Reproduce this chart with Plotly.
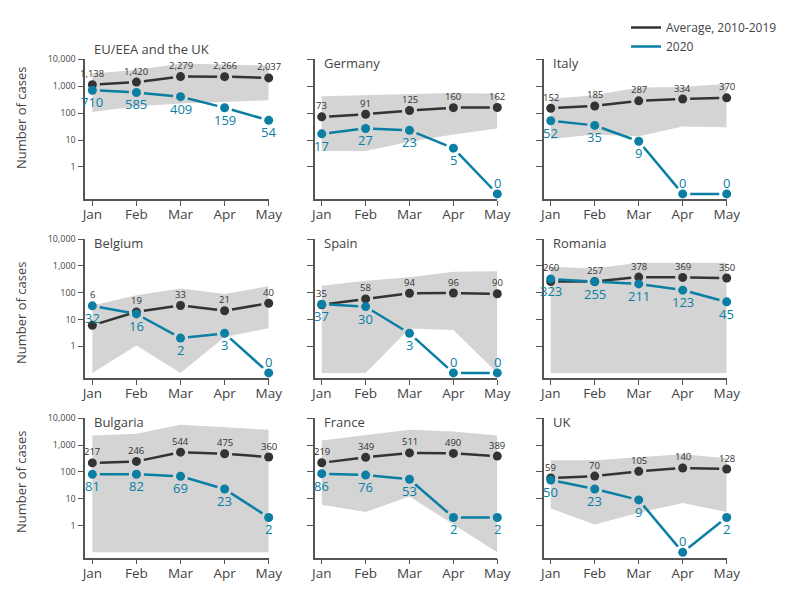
import math
import plotly.graph_objects as go

months = ["Jan", "Feb", "Mar", "Apr", "May"]
panel_titles = ["EU/EEA and the UK", "Germany", "Italy",
                "Belgium", "Spain", "Romania",
                "Bulgaria", "France", "UK"]

eu_avg = [1138, 1420, 2279, 2266, 2037]
eu_2020 = [710, 585, 409, 159, 54]
eu_lo = [110, 180, 230, 260, 300]
eu_hi = [3000, 4000, 7000, 6300, 5800]

de_avg = [73, 91, 125, 160, 162]
de_2020 = [17, 27, 23, 5, 0]
de_lo = [3.9, 3.9, 8.6, 16, 27]
de_hi = [420, 460, 530, 560, 520]

it_avg = [152, 185, 287, 334, 370]
it_2020 = [52, 35, 9, 0, 0]
it_lo = [11, 16, 14, 32, 30]
it_hi = [345, 460, 890, 945, 1230]

be_avg = [6, 19, 33, 21, 40]
be_2020 = [32, 16, 2, 3, 0]
be_lo = [0, 1.06, 0, 2.2, 4.7]
be_hi = [33, 79, 141, 89, 174]

es_avg = [35, 58, 94, 96, 90]
es_2020 = [37, 30, 3, 0, 0]
es_lo = [0, 0, 4.6, 4, 0]
es_hi = [180, 275, 370, 600, 630]

ro_avg = [260, 257, 378, 369, 350]
ro_2020 = [323, 255, 211, 123, 45]
ro_lo = [0, 0, 0, 0, 0]
ro_hi = [930, 790, 1300, 1300, 1300]

bg_avg = [217, 246, 544, 475, 360]
bg_2020 = [81, 82, 69, 23, 2]
bg_lo = [0, 0, 0, 0, 0]
bg_hi = [2270, 2640, 5800, 4600, 3700]

fr_avg = [219, 349, 511, 490, 389]
fr_2020 = [86, 76, 53, 2, 2]
fr_lo = [6, 3.2, 12, 1.1, 0]
fr_hi = [1480, 2270, 3700, 3200, 2300]

uk_avg = [59, 70, 105, 140, 128]
uk_2020 = [50, 23, 9, 0, 2]
uk_lo = [4.3, 1.1, 3, 6.9, 3.2]
uk_hi = [270, 270, 350, 460, 325]

y_tick_vals = [1, 10, 100, 1000, 10000]
y_tick_text = ["1", "10", "100", "1,000", "10,000"]

panels = [
    (eu_avg, eu_2020, eu_lo, eu_hi), (de_avg, de_2020, de_lo, de_hi), (it_avg, it_2020, it_lo, it_hi),
    (be_avg, be_2020, be_lo, be_hi), (es_avg, es_2020, es_lo, es_hi), (ro_avg, ro_2020, ro_lo, ro_hi),
    (bg_avg, bg_2020, bg_lo, bg_hi), (fr_avg, fr_2020, fr_lo, fr_hi), (uk_avg, uk_2020, uk_lo, uk_hi),
]

OFF = 8  # page body margin
W, H = 798 - OFF, 593 - OFF
DARK = "#333333"
TEAL = "#0a7fa3"
BAND = "#d4d4d4"
TXT = "#444444"
FONT = "Open Sans"
ZERO = 0.1  # zero plotted below the "1" tick

# layout geometry (page pixels)
col_px = [(85.3, 268.7), (314.7, 497.3), (543.7, 726.7)]
row_px = [(59.3, 199.3), (239.0, 378.3), (418.3, 557.7)]
X_RANGE = [-0.16, 4]
Y_RANGE = [math.log10(0.063), 4]
px_month = (col_px[0][1] - col_px[0][0]) / (X_RANGE[1] - X_RANGE[0])
px_decade = (row_px[0][1] - row_px[0][0]) / (Y_RANGE[1] - Y_RANGE[0])


def fx(px):
    return (px - OFF) / W


def fy(py):
    return 1 - (py - OFF) / H


def z(v):
    return v if v > 0 else ZERO


def gapped(vals, gap):
    xs, ys = [], []
    for i in range(len(vals) - 1):
        l0, l1 = math.log10(z(vals[i])), math.log10(z(vals[i + 1]))
        L = math.hypot(px_month, (l1 - l0) * px_decade)
        t = gap / L
        xs += [i + t, i + 1 - t, None]
        ys += [10 ** (l0 + t * (l1 - l0)), 10 ** (l1 - t * (l1 - l0)), None]
    return xs, ys


fig = go.Figure()
layout = dict(
    template="none",
    width=W, height=H, margin=dict(l=0, r=0, t=0, b=0, pad=0, autoexpand=False),
    paper_bgcolor="white", plot_bgcolor="white",
    font=dict(family=FONT, color=TXT, size=12),
    showlegend=True,
    legend=dict(x=fx(626), y=fy(13), xanchor="left", yanchor="top",
                font=dict(size=12, color=TXT), bgcolor="rgba(0,0,0,0)",
                tracegroupgap=0, itemwidth=30),
)
annotations = []
xs_idx = list(range(5))

for k, (avg, y20, lo, hi) in enumerate(panels):
    r, c = divmod(k, 3)
    n = k + 1
    xa = f"x{n}" if n > 1 else "x"
    ya = f"y{n}" if n > 1 else "y"
    # band
    fig.add_trace(go.Scatter(
        x=xs_idx + xs_idx[::-1], y=[z(v) for v in hi] + [z(v) for v in lo][::-1],
        fill="toself", fillcolor=BAND, line=dict(width=0), mode="lines",
        hoverinfo="skip", showlegend=False, xaxis=xa, yaxis=ya))
    # avg line + markers
    gx, gy = gapped(avg, 7.5)
    fig.add_trace(go.Scatter(x=gx, y=gy, mode="lines", line=dict(color=DARK, width=2.5),
                             showlegend=False, xaxis=xa, yaxis=ya, hoverinfo="skip"))
    fig.add_trace(go.Scatter(x=xs_idx, y=[z(v) for v in avg], mode="markers",
                             marker=dict(color=DARK, size=9), cliponaxis=False,
                             showlegend=False, xaxis=xa, yaxis=ya))
    gx, gy = gapped(y20, 7.5)
    fig.add_trace(go.Scatter(x=gx, y=gy, mode="lines", line=dict(color=TEAL, width=2.5),
                             showlegend=False, xaxis=xa, yaxis=ya, hoverinfo="skip"))
    fig.add_trace(go.Scatter(x=xs_idx, y=[z(v) for v in y20], mode="markers",
                             marker=dict(color=TEAL, size=9), cliponaxis=False,
                             showlegend=False, xaxis=xa, yaxis=ya))

    x0, x1 = col_px[c]
    top, bot = row_px[r]
    layout["xaxis" + (str(n) if n > 1 else "")] = dict(
        domain=[fx(x0), fx(x1)], range=X_RANGE, anchor=ya, automargin=False,
        tickvals=xs_idx, ticktext=months, ticks="outside", ticklen=5, tickwidth=1.2,
        ticklabelstandoff=-3,
        tickcolor="#555", showline=True, linecolor="#555", linewidth=1.5,
        showgrid=False, zeroline=False, tickfont=dict(size=13.5, color=TXT, family=FONT))
    layout["yaxis" + (str(n) if n > 1 else "")] = dict(
        domain=[fy(bot), fy(top)], type="log", range=Y_RANGE, anchor=xa,
        automargin=False,
        tickvals=y_tick_vals, ticktext=y_tick_text, showticklabels=(c == 0),
        ticks="outside", ticklen=6, tickwidth=1.2, tickcolor="#555",
        showline=True, linecolor="#555", linewidth=1.5, showgrid=False, zeroline=False,
        tickfont=dict(size=9, color=TXT, family=FONT))

    # title
    annotations.append(dict(
        text=panel_titles[k], xref="paper", yref="paper",
        x=fx(x0), y=fy(top), xanchor="left", yanchor="middle",
        xshift=7, yshift=(10 if k == 0 else -4),
        showarrow=False, font=dict(size=13, color=TXT, family=FONT)))

    # labels
    for i in range(5):
        ytop = max(z(avg[i]), z(y20[i]))
        annotations.append(dict(
            text=f"{avg[i]:,}", xref=xa, yref=ya, x=i, y=math.log10(ytop),
            yshift=11, showarrow=False, font=dict(size=9.5, color=DARK, family=FONT)))
        v = y20[i]
        annotations.append(dict(
            text=f"{v:,}", xref=xa, yref=ya, x=i, y=math.log10(z(v)),
            yshift=(11 if v == 0 else -12), showarrow=False,
            font=dict(size=13, color=TEAL, family=FONT)))

# y axis titles
for r, yc in enumerate([118, 313, 482]):
    annotations.append(dict(
        text="Number of cases", xref="paper", yref="paper", x=fx(21), y=fy(yc),
        textangle=-90, showarrow=False, xanchor="center", yanchor="middle",
        font=dict(size=13, color=TXT, family=FONT)))

# legend entries
fig.add_trace(go.Scatter(x=[None], y=[None], mode="lines", name="Average, 2010-2019",
                         line=dict(color=DARK, width=2.5)))
fig.add_trace(go.Scatter(x=[None], y=[None], mode="lines", name="2020",
                         line=dict(color=TEAL, width=2.5)))

layout["annotations"] = annotations
fig.update_layout(**layout)
fig.write_html("out.html")
